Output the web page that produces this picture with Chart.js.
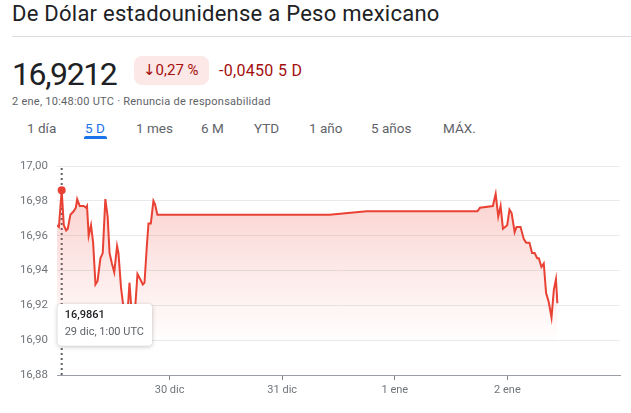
<!DOCTYPE html>
<html lang="es">
<head>
<meta charset="utf-8">
<title>De Dólar estadounidense a Peso mexicano</title>
<script src="https://cdn.jsdelivr.net/npm/chart.js@4.4.1/dist/chart.umd.min.js"></script>
<style>
  html, body { margin: 0; padding: 0; background: #fff; }
  body { width: 631px; height: 413px; position: relative; overflow: hidden; font-family: Roboto, "DejaVu Sans", sans-serif; color: #202124; }
  .abs { position: absolute; white-space: nowrap; }
  #title { left: 12px; top: 3px; font-size: 22px; line-height: 22px; letter-spacing: 0.25px; }
  #rule { left: 12px; right: 0; top: 36px; height: 1px; background: #dadce0; }
  #price { left: 12px; top: 58px; font-size: 32px; line-height: 32px; letter-spacing: -1.4px; }
  #pill { left: 134px; top: 56px; width: 75px; height: 29px; border-radius: 8px; background: #fce8e6; color: #a50e0e; font-size: 15px; line-height: 29px; padding-left: 9px; box-sizing: border-box; }
  #change { left: 219px; top: 56px; line-height: 29px; font-size: 16px; color: #a50e0e; letter-spacing: 0.3px; }
  #stamp { left: 12px; top: 94px; font-size: 11px; line-height: 16px; color: #5f6368; letter-spacing: 0.25px; }
  .tab { top: 120px; font-size: 13.5px; line-height: 16px; font-weight: 400; color: #5f6368; }
  .tab.on { color: #1a73e8; }
  #underline { left: 84px; top: 136px; width: 23px; height: 3px; background: #1a73e8; border-radius: 2px 2px 0 0; }
  #chartBox { left: 0; top: 150px; width: 631px; height: 263px; }
</style>
</head>
<body>
<div class="abs" id="title">De Dólar estadounidense a Peso mexicano</div>
<div class="abs" id="rule"></div>
<div class="abs" id="price">16,9212</div>
<div class="abs" id="pill">↓0,27 %</div>
<div class="abs" id="change">-0,0450 5 D</div>
<div class="abs" id="stamp">2 ene, 10:48:00 UTC · Renuncia de responsabilidad</div>
<div class="abs tab" style="left:27px">1 día</div>
<div class="abs tab on" style="left:85px">5 D</div>
<div class="abs tab" style="left:136px">1 mes</div>
<div class="abs tab" style="left:201px">6 M</div>
<div class="abs tab" style="left:254px">YTD</div>
<div class="abs tab" style="left:309px">1 año</div>
<div class="abs tab" style="left:371px">5 años</div>
<div class="abs tab" style="left:443px">MÁX.</div>
<div class="abs" id="underline"></div>
<div class="abs" id="chartBox"><canvas id="rateChart" width="631" height="263"></canvas></div>

<script>
// hours since 29 dic 0:00 UTC
const hours = [0, 0.4, 1, 1.45, 1.95, 2.3, 2.85, 3.55, 4.0, 4.3, 4.85, 5.7, 6.2, 6.4, 6.75, 7.25,
  7.7, 8.2, 8.65, 9.25, 9.75, 10.3, 10.8, 11.2, 11.7, 12.2, 12.8, 13.1, 13.65, 14.2, 14.55, 14.95,
  15.45, 15.8, 16.25, 16.65, 17.15, 17.75, 18.3, 18.65, 19.15, 19.5, 20.0, 20.55, 20.9, 21.4,
  58.1, 66.0, 89.6, 90.15, 92.9, 93.5, 94.05, 94.55, 95.05, 95.95, 96.45, 96.9, 97.55, 97.95,
  98.8, 99.5, 100.0, 100.7, 101.25, 101.8, 102.35, 102.7, 103.25, 103.75, 104.25, 104.8, 105.4,
  105.9, 106.35, 106.65];
const rates = [16.966, 16.965, 16.9861, 16.966, 16.963, 16.964, 16.972, 16.974, 16.976, 16.981,
  16.977, 16.977, 16.976, 16.977, 16.960, 16.966, 16.956, 16.932, 16.934, 16.947, 16.950, 16.981,
  16.971, 16.950, 16.944, 16.939, 16.954, 16.950, 16.930, 16.918, 16.908, 16.912, 16.933, 16.920,
  16.910, 16.918, 16.938, 16.935, 16.932, 16.933, 16.954, 16.967, 16.967, 16.980, 16.978, 16.972,
  16.972, 16.974, 16.974, 16.976, 16.977, 16.984, 16.971, 16.977, 16.964, 16.966, 16.975, 16.973,
  16.962, 16.965, 16.965, 16.958, 16.956, 16.956, 16.950, 16.950, 16.947, 16.947, 16.942, 16.944,
  16.927, 16.922, 16.913, 16.929, 16.935, 16.9212];
const tickHours = [24, 48, 72, 96];
const tickLabels = ['30 dic', '31 dic', '1 ene', '2 ene'];
const yTicks = [16.88, 16.90, 16.92, 16.94, 16.96, 16.98, 17.00];
const markerHour = 1;
const markerDate = '29 dic, 1:00 UTC';

const lineRed = '#e94235';
const markerIndex = hours.indexOf(markerHour);

// tooltip sits under the chart, left edge on the hovered point
Chart.Tooltip.positioners.below = function (items) {
    if (!items.length) return false;
    const area = this.chart.chartArea;
    return { x: items[0].element.x, y: area.bottom - 71 };
};

const cursorLine = {
    id: 'cursorLine',
    beforeDatasetsDraw(chart) {
        const ctx = chart.ctx;
        const x = chart.scales.x.getPixelForValue(markerHour);
        const { top, bottom } = chart.chartArea;
        ctx.save();
        ctx.setLineDash([2, 3]);
        ctx.strokeStyle = '#5f6368';
        ctx.lineWidth = 2;
        ctx.beginPath();
        ctx.moveTo(x, top + 2);
        ctx.lineTo(x, bottom);
        ctx.stroke();
        ctx.restore();
    }
};

const tooltipShadow = {
    id: 'tooltipShadow',
    beforeTooltipDraw(chart, args) {
        const tt = args.tooltip;
        const ctx = chart.ctx;
        ctx.save();
        ctx.shadowColor = 'rgba(60,64,67,0.35)';
        ctx.shadowBlur = 4;
        ctx.shadowOffsetY = 1;
        ctx.fillStyle = '#fff';
        ctx.beginPath();
        ctx.roundRect(tt.x, tt.y, tt.width, tt.height, 4);
        ctx.fill();
        ctx.restore();
    }
};

const ctx = document.getElementById('rateChart').getContext('2d');
const chart = new Chart(ctx, {
    type: 'line',
    data: {
        datasets: [{
            data: hours.map((h, i) => ({ x: h, y: rates[i] })),
            borderColor: lineRed,
            borderWidth: 2,
            tension: 0,
            fill: 'start',
            backgroundColor: (c) => {
                const area = c.chart.chartArea;
                if (!area) return 'rgba(234,67,53,0.1)';
                const g = c.chart.ctx.createLinearGradient(0, area.top, 0, area.bottom);
                g.addColorStop(0, 'rgba(234,67,53,0.28)');
                g.addColorStop(0.85, 'rgba(234,67,53,0)');
                return g;
            },
            pointRadius: (c) => c.dataIndex === markerIndex ? 4 : 0,
            pointHoverRadius: (c) => c.dataIndex === markerIndex ? 4 : 0,
            pointBackgroundColor: lineRed,
            pointBorderWidth: 0
        }]
    },
    options: {
        responsive: false,
        animation: false,
        events: [],
        layout: { padding: { top: 16, right: 11, bottom: 0, left: 0 } },
        plugins: {
            legend: { display: false },
            tooltip: {
                position: 'below',
                xAlign: 'left',
                yAlign: 'top',
                caretSize: 0,
                caretPadding: 0,
                cornerRadius: 4,
                backgroundColor: '#fff',
                borderWidth: 0,
                displayColors: false,
                padding: { top: 5, bottom: 7, left: 7, right: 8 },
                titleColor: '#202124',
                titleFont: { family: 'Roboto', size: 11, weight: '500' },
                titleMarginBottom: 3,
                bodyColor: '#5f6368',
                bodyFont: { family: 'Roboto', size: 11 },
                callbacks: {
                    title: (items) => items[0].parsed.y.toFixed(4).replace('.', ','),
                    label: () => markerDate
                }
            }
        },
        scales: {
            x: {
                type: 'linear',
                min: 0,
                max: 120,
                afterBuildTicks: (s) => { s.ticks = tickHours.map(v => ({ value: v })); },
                afterFit: (s) => { s.height = 38; },
                ticks: {
                    callback: (v) => tickLabels[tickHours.indexOf(v)],
                    autoSkip: false,
                    maxRotation: 0,
                    padding: 4,
                    color: '#70757a',
                    font: { family: 'Roboto', size: 11 }
                },
                grid: { drawOnChartArea: false, tickLength: 5, color: '#80868b' },
                border: { color: '#9aa0a6' }
            },
            y: {
                min: 16.88,
                max: 17.00,
                afterBuildTicks: (s) => { s.ticks = yTicks.map(v => ({ value: v })); },
                afterFit: (s) => { s.width = 57; },
                ticks: {
                    callback: (v) => v.toFixed(2).replace('.', ','),
                    padding: 9,
                    color: '#70757a',
                    font: { family: 'Roboto', size: 11.5 }
                },
                grid: { color: '#e8eaed', drawTicks: false },
                border: { display: false }
            }
        }
    },
    plugins: [cursorLine, tooltipShadow]
});

chart.tooltip.setActiveElements([{ datasetIndex: 0, index: markerIndex }], { x: 0, y: 0 });
chart.update();
</script>
</body>
</html>
